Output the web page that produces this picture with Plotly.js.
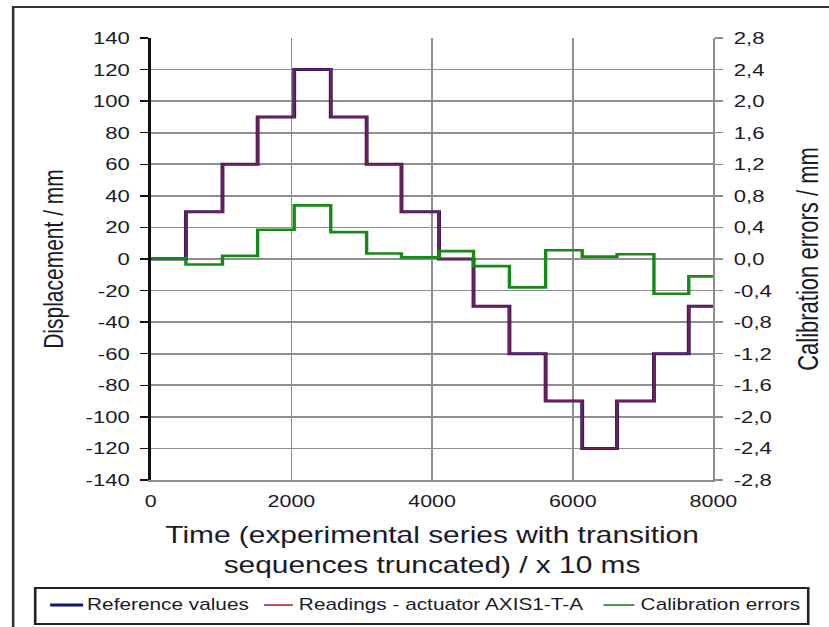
<!DOCTYPE html>
<html><head><meta charset="utf-8">
<script src="https://cdn.plot.ly/plotly-3.0.1.min.js"></script>
<style>
html,body{margin:0;padding:0;background:#fff;overflow:hidden}
#chart{width:638px;height:627px;transform:scaleX(1.2994);transform-origin:0 0}
</style>
</head><body>
<div id="chart"></div>
<script>
// Step start times (x 10 ms) and final end time
var stepTimes = [0, 500, 1020, 1520, 2040, 2560, 3070, 3565, 4100, 4590, 5100, 5615, 6135, 6630, 7155, 7650, 8000];
// Reference displacement values (mm) for each step (last value repeated for end point)
var referenceValues = [0, 30, 60, 90, 120, 90, 60, 30, 0, -30, -60, -90, -120, -90, -60, -30, -30];
// Actuator readings (mm)
var readingValues = [0, 30, 60, 90, 120, 90, 60, 30, 0, -30, -60, -90, -120, -90, -60, -30, -30];
// Calibration errors (mm)
var errorValues = [0.01, -0.07, 0.04, 0.37, 0.68, 0.34, 0.07, 0.02, 0.10, -0.09, -0.36, 0.11, 0.03, 0.06, -0.44, -0.22, -0.22];

var leftTicks = [-140,-120,-100,-80,-60,-40,-20,0,20,40,60,80,100,120,140];
var rightTicks = [-2.8,-2.4,-2.0,-1.6,-1.2,-0.8,-0.4,0,0.4,0.8,1.2,1.6,2.0,2.4,2.8];
var rightTickText = ["-2,8","-2,4","-2,0","-1,6","-1,2","-0,8","-0,4","0,0","0,4","0,8","1,2","1,6","2,0","2,4","2,8"];
var xTicks = [0,2000,4000,6000,8000];
var seriesNames = ["Reference values", "Readings - actuator AXIS1-T-A", "Calibration errors"];
var seriesColors = ["#14147e", "#b02a2a", "#168a16"];

var fontFam = "Liberation Sans, Arial, sans-serif";
var txt = "#1a1a28";
var grid = "#8e8e8e";
var traces = [
  {x: stepTimes, y: referenceValues, name: seriesNames[0], mode: "lines",
   line: {shape: "hv", color: seriesColors[0], width: 3}, yaxis: "y"},
  {x: stepTimes, y: readingValues, name: seriesNames[1], mode: "lines",
   line: {shape: "hv", color: seriesColors[1], width: 2}, opacity: 0.6, yaxis: "y"},
  {x: stepTimes, y: errorValues, name: seriesNames[2], mode: "lines",
   line: {shape: "hv", color: seriesColors[2], width: 2.6}, yaxis: "y2"}
];

// legend (drawn below the plot, in paper coordinates)
var legY = -0.2828;
var legLines = [[-0.1788, -0.1202, 3], [0.2011, 0.2526, 1.6], [0.8046, 0.8597, 1.6]];
var legTextX = [-0.1167, 0.2597, 0.8669];
var shapes = [
  {type: "rect", xref: "paper", yref: "paper", x0: -0.2445, x1: 1.6, y0: -1.0, y1: 1.0701,
   line: {color: "#333", width: 2}, fillcolor: "rgba(0,0,0,0)", layer: "below"},
  {type: "rect", xref: "paper", yref: "paper", x0: -0.2053, x1: 1.1686, y0: -0.3258, y1: -0.2443,
   line: {color: "#222", width: 2}, fillcolor: "#fff", layer: "above"}
];
var annotations = [];
for (var i = 0; i < 3; i++) {
  shapes.push({type: "line", xref: "paper", yref: "paper", x0: legLines[i][0], x1: legLines[i][1],
    y0: legY, y1: legY, line: {color: seriesColors[i], width: legLines[i][2]}, layer: "above"});
  annotations.push({xref: "paper", yref: "paper", x: legTextX[i], y: legY, xanchor: "left", yanchor: "middle",
    text: seriesNames[i], showarrow: false, font: {size: 16, family: fontFam, color: txt}});
}

var layout = {
  width: 638, height: 627,
  margin: {l: 116, r: 88.5, t: 38, b: 147, autoexpand: false},
  paper_bgcolor: "#fff", plot_bgcolor: "#fff",
  font: {family: fontFam, color: txt},
  showlegend: false,
  xaxis: {range: [0, 8000], tickvals: xTicks, ticktext: xTicks.map(String),
    showgrid: true, gridcolor: grid, gridwidth: 1.3, zeroline: false,
    showline: true, linecolor: grid, linewidth: 1.6, ticks: "", ticklabelstandoff: 6,
    tickfont: {size: 16.5, family: fontFam, color: txt}, automargin: false,
    title: {text: "Time (experimental series with transition<br>sequences truncated) / x 10 ms",
      font: {size: 23, family: fontFam, color: txt}, standoff: 17}},
  yaxis: {range: [-140, 140], tickvals: leftTicks, ticktext: leftTicks.map(function (v) { return v + "\u00a0"; }),
    showgrid: true, gridcolor: grid, gridwidth: 1.6, zeroline: false, automargin: false,
    showline: true, linecolor: "#111", linewidth: 2, ticks: "outside", ticklen: 6, tickcolor: "#111", tickwidth: 1.5,
    tickfont: {size: 17, family: fontFam, color: txt},
    title: {text: "Displacement / mm", font: {size: 21, family: fontFam, color: txt}, standoff: 11}},
  yaxis2: {range: [-2.8, 2.8], tickvals: rightTicks, ticktext: rightTickText, overlaying: "y", side: "right",
    showgrid: false, zeroline: false, showline: true, linecolor: grid, linewidth: 1.3, automargin: false,
    ticks: "outside", ticklen: 6, tickcolor: grid, tickwidth: 1.5, ticklabelstandoff: 5,
    tickfont: {size: 17, family: fontFam, color: txt},
    title: {text: "Calibration errors / mm", font: {size: 22, family: fontFam, color: txt}, standoff: 21}},
  shapes: shapes,
  annotations: annotations
};
Plotly.newPlot("chart", traces, layout, {displayModeBar: false, staticPlot: true});
</script>
</body></html>
